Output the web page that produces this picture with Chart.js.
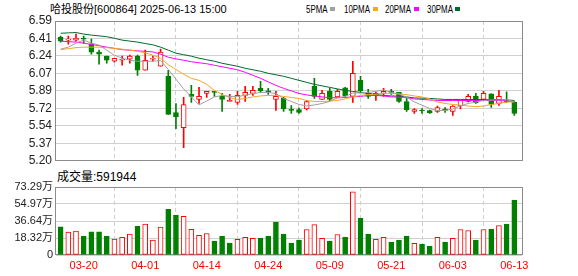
<!DOCTYPE html>
<html>
<head>
<meta charset="utf-8">
<script src="https://cdn.jsdelivr.net/npm/chart.js@4.4.1/dist/chart.umd.min.js"></script>
<style>
  body { margin: 0; background: #fff; width: 578px; height: 276px; overflow: hidden; position: relative;
         font-family: 'Liberation Sans', 'Noto Sans CJK SC', sans-serif; }
  canvas { position: absolute; left: 0; }
  #price { top: 0; }
  #vol { top: 170px; }
  .txt { position: absolute; white-space: nowrap; color: #000; font-size: 12px; line-height: 12px; }
  .leg { position: absolute; white-space: nowrap; color: #000; font-size: 11px; line-height: 12px;
         transform: scaleX(0.72); transform-origin: 0 0; }
  .box { position: absolute; width: 5px; height: 4px; }
</style>
</head>
<body>
<div class="txt" style="left:50px;top:3px;font-size:11px;">哈投股份[600864] 2025-06-13 15:00</div>
<div class="leg" style="left:306px;top:3px;">5PMA</div>
<div class="box" style="left:330px;top:7px;background:#a0a0a0;"></div>
<div class="leg" style="left:344px;top:3px;">10PMA</div>
<div class="box" style="left:373px;top:7px;background:#f5a623;"></div>
<div class="leg" style="left:385px;top:3px;">20PMA</div>
<div class="box" style="left:414px;top:7px;background:#ff00ff;"></div>
<div class="leg" style="left:427px;top:3px;">30PMA</div>
<div class="box" style="left:455px;top:7px;background:#006a2e;"></div>
<div class="txt" style="left:57px;top:171px;">成交量:591944</div>

<canvas id="price" width="578" height="172"></canvas>
<canvas id="vol" width="578" height="106"></canvas>

<script>
const dates = ['03-17','03-18','03-19','03-20','03-21','03-24','03-25','03-26','03-27','03-28',
  '03-31','04-01','04-02','04-03','04-07','04-08','04-09','04-10','04-11','04-14',
  '04-15','04-16','04-17','04-18','04-21','04-22','04-23','04-24','04-25','04-28',
  '04-29','04-30','05-06','05-07','05-08','05-09','05-12','05-13','05-14','05-15',
  '05-16','05-19','05-20','05-21','05-22','05-23','05-26','05-27','05-28','05-29',
  '05-30','06-03','06-04','06-05','06-06','06-09','06-10','06-11','06-12','06-13'];
const xTickIdx = [3, 11, 19, 27, 35, 43, 51, 59];

const open  = [6.43,6.40,6.40,6.42,6.36,6.28,6.24,6.19,6.20,6.21, 6.24,6.10,6.21,6.14,6.04,5.68,5.53,5.86,5.81,5.87,
               5.885,5.84,5.79,5.78,5.85,5.87,5.92,5.89,5.81,5.82, 5.715,5.71,5.715,5.94,5.81,5.89,5.835,5.925,5.84,6.00,
               5.87,5.85,5.87,5.89,5.88,5.79,5.69,5.70,5.70,5.69, 5.715,5.69,5.745,5.79,5.84,5.81,5.865,5.77,5.79,5.785];
const high  = [6.44,6.44,6.46,6.44,6.41,6.30,6.24,6.22,6.24,6.25, 6.25,6.30,6.24,6.31,6.10,5.77,5.83,5.95,5.93,5.89,
               5.89,5.87,5.86,5.89,5.94,5.94,5.99,5.92,5.89,5.83, 5.75,5.725,5.80,6.02,5.90,5.92,5.91,5.93,6.19,6.04,
               5.91,5.88,5.92,5.91,5.88,5.82,5.72,5.72,5.705,5.745, 5.73,5.75,5.80,5.86,5.87,5.89,5.865,5.90,5.885,5.795];
const low   = [6.38,6.36,6.39,6.37,6.26,6.16,6.17,6.18,6.15,6.17, 6.05,6.10,6.19,6.14,5.66,5.52,5.33,5.78,5.77,5.83,
               5.84,5.69,5.79,5.76,5.79,5.85,5.88,5.86,5.70,5.69, 5.67,5.67,5.705,5.82,5.81,5.79,5.83,5.835,5.78,5.88,
               5.82,5.80,5.84,5.86,5.78,5.69,5.67,5.67,5.67,5.68, 5.68,5.65,5.715,5.785,5.77,5.80,5.73,5.75,5.78,5.65];
const close = [6.39,6.41,6.42,6.41,6.28,6.26,6.20,6.22,6.21,6.24, 6.10,6.20,6.215,6.28,5.66,5.64,5.76,5.84,5.84,5.89,
               5.88,5.81,5.80,5.85,5.88,5.90,5.895,5.885,5.84,5.715, 5.70,5.68,5.79,5.84,5.87,5.81,5.89,5.845,6.07,5.895,
               5.84,5.87,5.89,5.88,5.79,5.705,5.71,5.695,5.675,5.73, 5.70,5.745,5.80,5.84,5.775,5.87,5.76,5.84,5.785,5.67];

const ma5  = [6.31,6.33,6.37,6.40,6.37,6.35,6.30,6.25,6.22,6.20, 6.19,6.19,6.19,6.197,6.108,6.012,5.915,5.835,5.756,5.795,
              5.835,5.85,5.84,5.84,5.85,5.868,5.88,5.88,5.868,5.82, 5.79,5.76,5.746,5.755,5.77,5.79,5.826,5.84,5.874,5.874,
              5.88,5.89,5.905,5.88,5.865,5.833,5.785,5.753,5.72,5.70, 5.70,5.715,5.746,5.77,5.785,5.80,5.805,5.805,5.81,5.785];
const ma10 = [6.305,6.315,6.325,6.33,6.33,6.33,6.325,6.318,6.31,6.30, 6.29,6.274,6.25,6.22,6.156,6.108,6.06,6.02,6.00,5.96,
              5.90,5.86,5.83,5.81,5.82,5.835,5.845,5.85,5.85,5.84, 5.83,5.82,5.80,5.79,5.79,5.794,5.80,5.815,5.835,5.85,
              5.858,5.862,5.87,5.87,5.865,5.858,5.845,5.835,5.815,5.785, 5.77,5.76,5.753,5.745,5.737,5.745,5.76,5.77,5.785,5.785];
const ma20 = [6.39,6.385,6.38,6.37,6.357,6.345,6.33,6.318,6.305,6.30, 6.293,6.288,6.283,6.26,6.23,6.213,6.20,6.185,6.175,6.165,
              6.15,6.135,6.12,6.105,6.08,6.05,6.02,5.985,5.95,5.92, 5.895,5.87,5.855,5.845,5.835,5.828,5.826,5.83,5.835,5.84,
              5.85,5.85,5.845,5.835,5.833,5.83,5.815,5.81,5.805,5.80, 5.80,5.80,5.80,5.80,5.80,5.80,5.80,5.80,5.795,5.785];
const ma30 = [6.468,6.472,6.475,6.46,6.45,6.442,6.434,6.418,6.40,6.39, 6.38,6.366,6.353,6.33,6.30,6.27,6.255,6.24,6.22,6.205,
              6.19,6.17,6.155,6.14,6.12,6.105,6.09,6.07,6.055,6.04, 6.02,6.00,5.98,5.96,5.945,5.93,5.915,5.90,5.89,5.88,
              5.87,5.86,5.85,5.845,5.842,5.835,5.825,5.823,5.82,5.815, 5.81,5.81,5.81,5.81,5.81,5.81,5.81,5.81,5.805,5.80];

// volume in 万 shares, and colour of each volume bar (u = red, d = green)
const vol = [30.3,24.6,25.7,20.4,25.0,25.0,20.4,17.1,19.0,22.5, 31.0,33.2,16.0,30.0,49.3,42.9,41.8,27.7,21.1,23.2,
             15.0,20.4,12.9,16.8,19.0,17.9,18.2,20.4,35.4,22.5, 12.9,16.1,27.5,32.9,17.9,15.0,22.1,19.3,68.2,39.6,
             22.5,16.8,19.0,13.9,16.1,20.4,12.5,11.8,9.6,19.0, 13.9,17.9,27.5,26.4,16.1,27.5,27.9,31.8,33.2,59.19];
const volDir = ['d','u','u','d','d','d','d','u','u','u', 'd','u','u','u','d','d','u','u','u','u',
                'd','d','d','u','u','u','d','d','d','d', 'd','d','u','u','u','d','u','d','u','d',
                'd','u','u','d','d','d','u','d','d','u', 'd','u','u','u','d','u','d','u','d','d'];

const priceTickLabels = ['5.20','5.37','5.54','5.72','5.89','6.07','6.24','6.41','6.59'];
const priceMin = 5.20, priceMax = 6.59;
const volTickLabels = ['0','18.32万','36.64万','54.97万','73.29万'];
const volTickValues = [0, 18.32, 36.64, 54.97, 73.29];

const RED = '#ff0000', GREEN = '#008000';
const FONT = "'Liberation Sans', 'Noto Sans CJK SC', sans-serif";

const framePlugin = {
  id: 'frame',
  beforeDatasetsDraw(chart) {
    const a = chart.chartArea, ctx = chart.ctx;
    ctx.save();
    ctx.strokeStyle = '#8c8c8c';
    ctx.lineWidth = 1;
    ctx.strokeRect(Math.round(a.left) - 0.5, Math.round(a.top) + 0.5,
                   Math.round(a.right - a.left) + 1, Math.round(a.bottom - a.top) - 1);
    ctx.restore();
  }
};

function xScale(showLabels) {
  return {
    type: 'linear', min: -0.6, max: 60, offset: false,
    afterBuildTicks: s => { s.ticks = xTickIdx.map(v => ({ value: v })); },
    afterFit: s => { s.height = showLabels ? 21 : 0; },
    grid: { color: '#cfcfcf', drawTicks: false },
    border: { display: false, dash: [4, 3] },
    ticks: {
      display: showLabels, color: RED, padding: 4, maxRotation: 0, autoSkip: false,
      font: { family: FONT, size: 11 },
      callback: v => dates[v]
    }
  };
}

const upBody = close.map((c, i) => c >= open[i]);

new Chart(document.getElementById('price'), {
  type: 'bar',
  data: {
    datasets: [
      { type: 'line', data: ma5.map((v, i) => ({ x: i, y: v })), borderColor: '#a0a0a0', borderWidth: 1, pointRadius: 0, order: 1 },
      { type: 'line', data: ma10.map((v, i) => ({ x: i, y: v })), borderColor: '#f5a623', borderWidth: 1, pointRadius: 0, order: 1 },
      { type: 'line', data: ma20.map((v, i) => ({ x: i, y: v })), borderColor: '#ff00ff', borderWidth: 1, pointRadius: 0, order: 1 },
      { type: 'line', data: ma30.map((v, i) => ({ x: i, y: v })), borderColor: '#006a2e', borderWidth: 1, pointRadius: 0, order: 1 },
      {
        data: open.map((o, i) => ({ x: i, y: [o, close[i]] })),
        backgroundColor: upBody.map(u => u ? '#ffffff' : GREEN),
        borderColor: upBody.map(u => u ? RED : GREEN),
        borderWidth: 1, borderSkipped: false, barThickness: 5, minBarLength: 1, grouped: false, order: 2
      },
      {
        data: low.map((l, i) => ({ x: i, y: [l, high[i]] })),
        backgroundColor: upBody.map(u => u ? RED : GREEN),
        borderWidth: 0, barThickness: 1, grouped: false, order: 3
      }
    ]
  },
  options: {
    responsive: false, animation: false,
    layout: { padding: { left: 0, right: 56, top: 21, bottom: 6 } },
    plugins: { legend: { display: false }, tooltip: { enabled: false } },
    scales: {
      x: xScale(false),
      y: {
        min: priceMin, max: priceMax,
        afterBuildTicks: s => { s.ticks = priceTickLabels.map((t, k) => ({ value: priceMin + k * (priceMax - priceMin) / 8 })); },
        afterFit: s => { s.width = 56; },
        grid: { color: '#d0d0d0', drawTicks: false },
        border: { display: false },
        ticks: { color: '#222', padding: 4, font: { family: FONT, size: 12 },
                 callback: (v, k) => priceTickLabels[k] }
      }
    }
  },
  plugins: [framePlugin]
});

new Chart(document.getElementById('vol'), {
  type: 'bar',
  data: {
    datasets: [{
      data: vol.map((v, i) => ({ x: i, y: v })),
      backgroundColor: volDir.map(d => d === 'u' ? '#ffffff' : GREEN),
      borderColor: volDir.map(d => d === 'u' ? RED : GREEN),
      borderWidth: 1, borderSkipped: false, barThickness: 5, grouped: false
    }]
  },
  options: {
    responsive: false, animation: false,
    layout: { padding: { left: 0, right: 56, top: 17, bottom: 0 } },
    plugins: { legend: { display: false }, tooltip: { enabled: false } },
    scales: {
      x: xScale(true),
      y: {
        min: 0, max: 73.29,
        afterBuildTicks: s => { s.ticks = volTickValues.map(v => ({ value: v })); },
        afterFit: s => { s.width = 56; },
        grid: { color: '#d0d0d0', drawTicks: false },
        border: { display: false },
        ticks: { color: '#222', padding: 3, font: { family: FONT, size: 11 },
                 callback: (v, k) => volTickLabels[k] }
      }
    }
  },
  plugins: [framePlugin]
});
</script>
</body>
</html>
